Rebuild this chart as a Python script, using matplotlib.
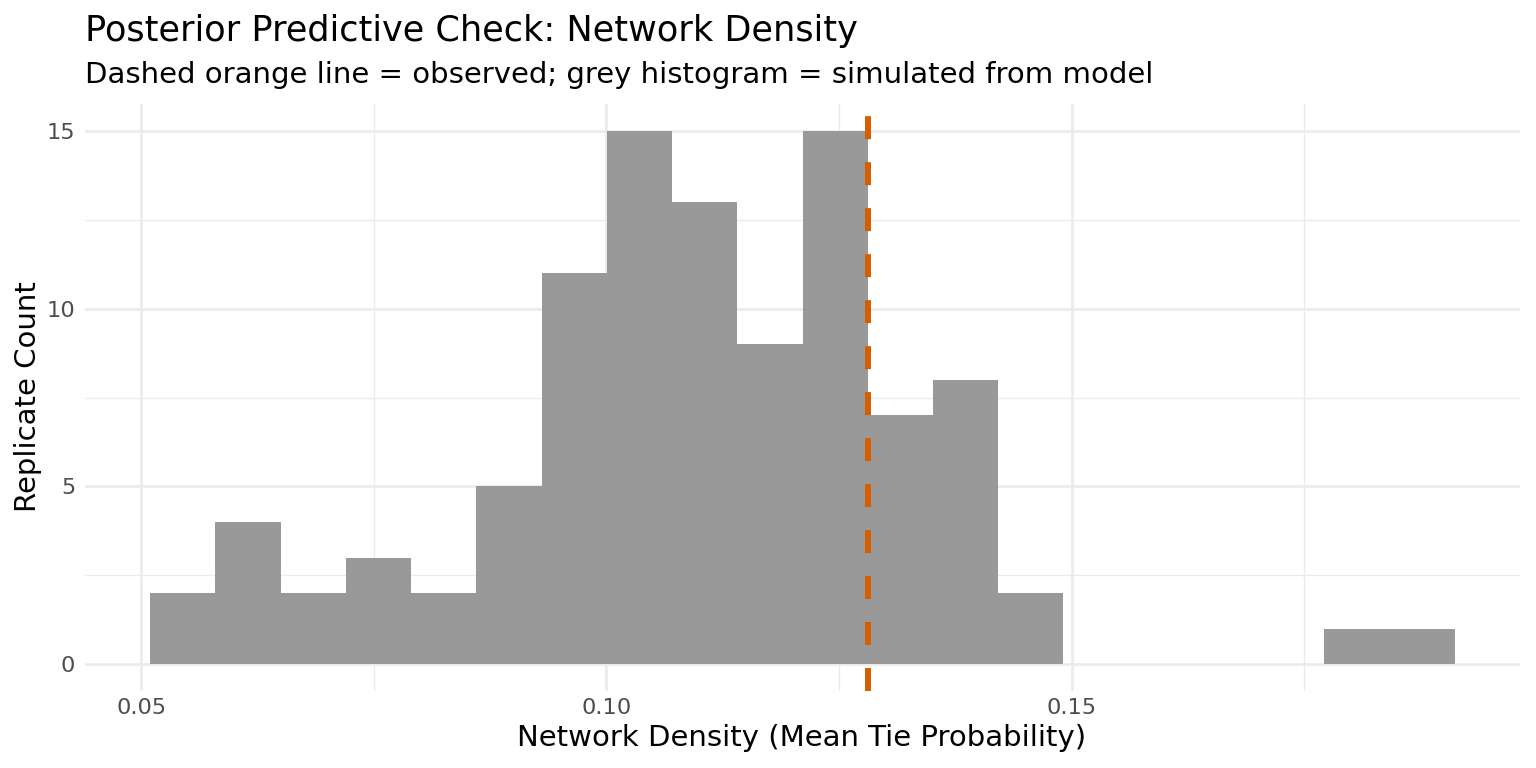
import numpy as np
import matplotlib
matplotlib.use("Agg")
import matplotlib.pyplot as plt

# Histogram of simulated network densities (100 replicates, 20 bins)
bin_start = 0.05097
bin_width = 0.00701
counts = [2, 4, 2, 3, 2, 5, 11, 15, 13, 9, 15, 7, 8, 2, 0, 0, 0, 0, 1, 1]
observed_density = 0.1281

x_ticks = [0.05, 0.10, 0.15]
x_tick_labels = ["0.05", "0.10", "0.15"]
y_ticks = [0, 5, 10, 15]

title = "Posterior Predictive Check: Network Density"
subtitle = "Dashed orange line = observed; grey histogram = simulated from model"
x_label = "Network Density (Mean Tie Probability)"
y_label = "Replicate Count"

W, H = 1536, 768
fig = plt.figure(figsize=(W / 100, H / 100), dpi=100)
ax = fig.add_axes([85 / W, 1 - 691 / H, (1520 - 85) / W, (691 - 104) / H])

lefts = bin_start + bin_width * np.arange(len(counts))
ax.bar(lefts, counts, width=bin_width, align="edge", color="#999999",
       linewidth=0, zorder=2)

ax.axvline(observed_density, color="#D55E00", linewidth=4.3,
           dashes=(3.85, 3.85), zorder=3)

# axis limits with ggplot-style 5% expansion
x_lo, x_hi = bin_start, bin_start + bin_width * len(counts)
pad = (x_hi - x_lo) * 0.05
ax.set_xlim(x_lo - pad, x_hi + pad)
ax.set_ylim(-0.75, 15.75)

ax.set_xticks(x_ticks)
ax.set_xticklabels(x_tick_labels)
ax.set_yticks(y_ticks)
ax.set_xticks([0.075, 0.125, 0.175], minor=True)
ax.set_yticks([2.5, 7.5, 12.5], minor=True)

ax.grid(which="major", color="#EBEBEB", linewidth=1.9, zorder=0)
ax.grid(which="minor", color="#EBEBEB", linewidth=1.0, zorder=0)
ax.set_axisbelow(True)

for s in ax.spines.values():
    s.set_visible(False)
ax.tick_params(which="both", length=0)
ax.tick_params(axis="both", labelsize=16.2, labelcolor="#4D4D4D")
ax.tick_params(axis="x", pad=5)
ax.tick_params(axis="y", pad=7)

fig.text(85 / W, 1 - 41 / H, title, fontsize=25.3, va="baseline", ha="left")
fig.text(85 / W, 1 - 83 / H, subtitle, fontsize=21, va="baseline", ha="left")
fig.text(802 / W, 1 - 738 / H, x_label, fontsize=21, va="center", ha="center")
fig.text(28 / W, 1 - 397 / H, y_label, fontsize=21, va="center", ha="center",
         rotation=90)

fig.savefig("out.png", dpi=100)
